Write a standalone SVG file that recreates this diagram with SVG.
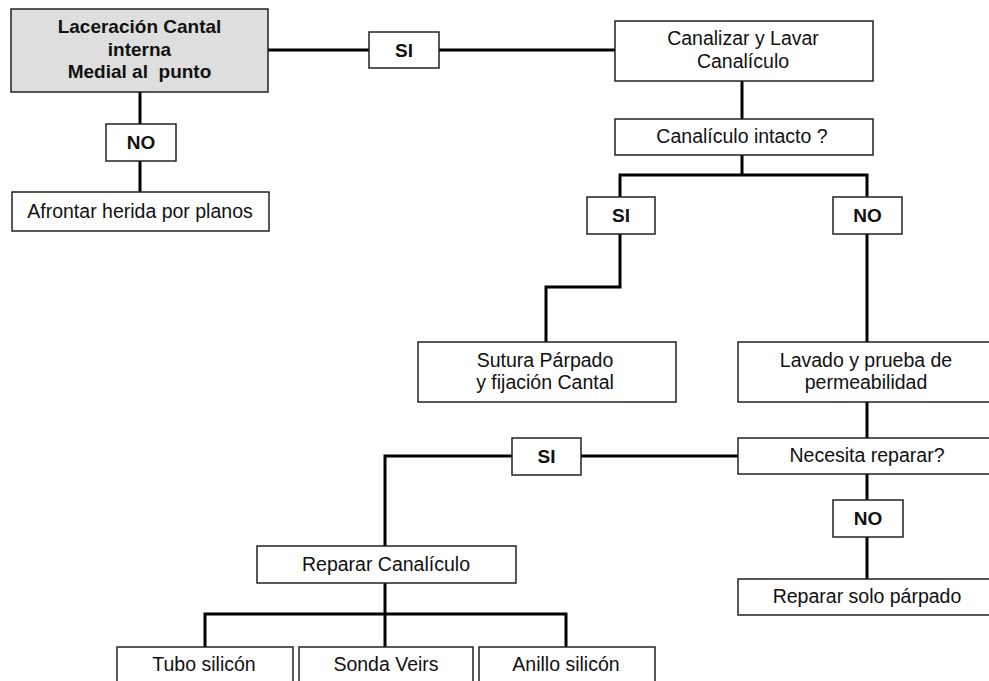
<svg xmlns="http://www.w3.org/2000/svg" width="989" height="681" viewBox="0 0 989 681">
<style>
.box{fill:#ffffff;stroke:#222222;stroke-width:1.5}
.gray{fill:#dedede}
.t{font-family:"Liberation Sans",Arial,sans-serif;font-size:19.5px;fill:#111;text-anchor:middle}
.b{font-weight:bold;font-size:19px}
.c{fill:none;stroke:#000;stroke-width:3;stroke-linejoin:miter}
</style>
<rect width="989" height="681" fill="#ffffff"/>
<g id="connectors">
<polyline class="c" points="268,50 369,50"/>
<polyline class="c" points="439,50 615,50"/>
<polyline class="c" points="140,92 140,124"/>
<polyline class="c" points="140,161 140,192"/>
<polyline class="c" points="742,81 742,119"/>
<polyline class="c" points="742,155 742,175"/>
<polyline class="c" points="620,197 620,175 867,175 867,197"/>
<polyline class="c" points="620,234 620,287 546,287 546,342"/>
<polyline class="c" points="867,234 867,342"/>
<polyline class="c" points="867,402 867,438"/>
<polyline class="c" points="738,456 581,456"/>
<polyline class="c" points="512,456 385,456 385,546"/>
<polyline class="c" points="867,474 867,500"/>
<polyline class="c" points="867,537 867,579"/>
<polyline class="c" points="385,583 385,647"/>
<polyline class="c" points="205,647 205,614 566,614 566,647"/>
</g>
<g id="n-laceracion">
<rect class="box gray" x="11" y="9" width="257" height="83"/>
<text class="t b" x="139.5" y="33">Laceración Cantal</text>
<text class="t b" x="139.5" y="56">interna</text>
<text class="t b" x="139.5" y="78" xml:space="preserve">Medial al  punto</text>
</g>
<g id="n-si-top">
<rect class="box" x="369" y="32" width="70" height="36"/>
<text class="t b" x="404" y="57">SI</text>
</g>
<g id="n-no-left">
<rect class="box" x="106" y="124" width="70" height="37"/>
<text class="t b" x="141" y="149">NO</text>
</g>
<g id="n-afrontar">
<rect class="box" x="12" y="192" width="257" height="39"/>
<text class="t" x="140" y="218">Afrontar herida por planos</text>
</g>
<g id="n-canalizar">
<rect class="box" x="615" y="21" width="258" height="60"/>
<text class="t" x="743" y="45">Canalizar y Lavar</text>
<text class="t" x="743" y="68">Canalículo</text>
</g>
<g id="n-intacto">
<rect class="box" x="615" y="119" width="258" height="36"/>
<text class="t" x="742" y="143">Canalículo intacto ?</text>
</g>
<g id="n-si-mid">
<rect class="box" x="587" y="197" width="68" height="37"/>
<text class="t b" x="621" y="222">SI</text>
</g>
<g id="n-no-mid">
<rect class="box" x="833" y="197" width="69" height="37"/>
<text class="t b" x="867.5" y="222">NO</text>
</g>
<g id="n-sutura">
<rect class="box" x="418" y="342" width="258" height="60"/>
<text class="t" x="545" y="367">Sutura Párpado</text>
<text class="t" x="545" y="389">y fijación Cantal</text>
</g>
<g id="n-lavado">
<rect class="box" x="738" y="342" width="258" height="60"/>
<text class="t" x="866" y="367">Lavado y prueba de</text>
<text class="t" x="866" y="389">permeabilidad</text>
</g>
<g id="n-necesita">
<rect class="box" x="738" y="438" width="258" height="36"/>
<text class="t" x="867" y="462">Necesita reparar?</text>
</g>
<g id="n-si-low">
<rect class="box" x="512" y="438" width="69" height="37"/>
<text class="t b" x="546.5" y="463">SI</text>
</g>
<g id="n-no-low">
<rect class="box" x="833" y="500" width="70" height="37"/>
<text class="t b" x="868" y="525">NO</text>
</g>
<g id="n-reparar-solo">
<rect class="box" x="738" y="579" width="258" height="36"/>
<text class="t" x="867" y="603">Reparar solo párpado</text>
</g>
<g id="n-reparar-canaliculo">
<rect class="box" x="257" y="546" width="259" height="37"/>
<text class="t" x="386" y="571">Reparar Canalículo</text>
</g>
<g id="n-tubo">
<rect class="box" x="117" y="647" width="176" height="50"/>
<text class="t" x="204" y="671">Tubo silicón</text>
</g>
<g id="n-sonda">
<rect class="box" x="299" y="647" width="174" height="50"/>
<text class="t" x="386" y="671">Sonda Veirs</text>
</g>
<g id="n-anillo">
<rect class="box" x="479" y="647" width="176" height="50"/>
<text class="t" x="566" y="671">Anillo silicón</text>
</g>
</svg>
